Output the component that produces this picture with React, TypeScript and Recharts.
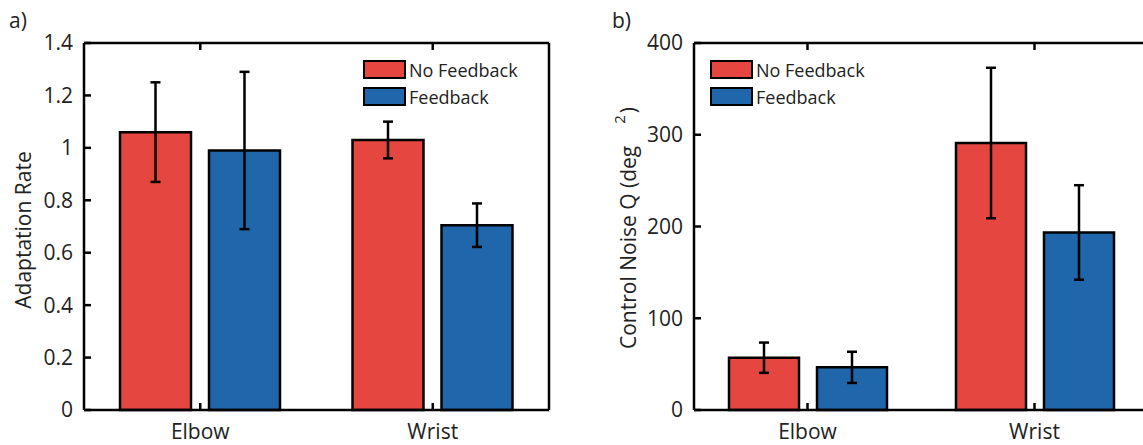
import { Bar, BarChart, ErrorBar, Legend, XAxis, YAxis } from "recharts";

const joints = ["Elbow", "Wrist"];
const seriesNames = ["No Feedback", "Feedback"];

// panel a) adaptation rate
const rateNoFeedback = [1.06, 1.03];
const rateNoFeedbackErr = [0.19, 0.07];
const rateFeedback = [0.99, 0.705];
const rateFeedbackErr = [0.3, 0.083];
const rateTicks = [0, 0.2, 0.4, 0.6, 0.8, 1, 1.2, 1.4];

// panel b) control noise
const noiseNoFeedback = [57, 291];
const noiseNoFeedbackErr = [16.5, 82];
const noiseFeedback = [46.5, 193.5];
const noiseFeedbackErr = [17, 51.5];
const noiseTicks = [0, 100, 200, 300, 400];

const RED = "#E5463F";
const BLUE = "#1F66AA";
const FONT = "'Open Sans', sans-serif";
const INK = "#222";

const buildRows = (nf: number[], nfErr: number[], fb: number[], fbErr: number[]) =>
  joints.map((name, i) => ({ name, nf: nf[i], nfErr: nfErr[i], fb: fb[i], fbErr: fbErr[i] }));

const rateData = buildRows(rateNoFeedback, rateNoFeedbackErr, rateFeedback, rateFeedbackErr);
const noiseData = buildRows(noiseNoFeedback, noiseNoFeedbackErr, noiseFeedback, noiseFeedbackErr);

const axisLine = { stroke: "#000", strokeWidth: 2.5 };
const tickFont = { fontFamily: FONT, fontSize: 21, fill: INK };

// legend keeps the series order (recharts sorts by value otherwise)
const LegendBox = ({ payload }: any) => {
  const items = [...(payload || [])].sort(
    (a: any, b: any) => seriesNames.indexOf(a.value) - seriesNames.indexOf(b.value)
  );
  return (
    <div style={{ fontFamily: FONT, fontSize: 18, color: INK }}>
      {items.map((p: any) => (
        <div key={p.value} style={{ display: "flex", alignItems: "center", height: 27 }}>
          <span
            style={{
              display: "inline-block",
              width: 39,
              height: 15,
              background: p.color,
              border: "2.5px solid #000",
              marginRight: 3,
            }}
          />
          {p.value}
        </div>
      ))}
    </div>
  );
};

const RateLabel = () => (
  <text transform="translate(31,230) rotate(-90)" textAnchor="middle" fontFamily={FONT} fontSize={21} fill={INK}>
    Adaptation Rate
  </text>
);

const NoiseLabel = () => (
  <text transform="translate(56,228) rotate(-90)" textAnchor="middle" fontFamily={FONT} fontSize={21} fill={INK}>
    Control Noise Q (deg
    <tspan dx={22} dy={-11} fontSize={15}>
      2
    </tspan>
    <tspan dx={2} dy={11}>
      )
    </tspan>
  </text>
);

type PanelProps = {
  data: any[];
  ticks: number[];
  width: number;
  leftWidth: number;
  rightWidth: number;
  barSize: number;
  legendLeft: number;
  label: React.ReactElement;
};

const Panel = ({ data, ticks, width, leftWidth, rightWidth, barSize, legendLeft, label }: PanelProps) => {
  const domain = [ticks[0], ticks[ticks.length - 1]];
  return (
    <BarChart
      width={width}
      height={445}
      data={data}
      margin={{ top: 33, right: 0, bottom: 0, left: 0 }}
      barSize={barSize}
      barGap={18}
    >
      <XAxis
        dataKey="name"
        height={35}
        axisLine={axisLine}
        tickLine={axisLine}
        tickSize={-7}
        tickMargin={21}
        tick={tickFont}
      />
      <XAxis
        xAxisId="top"
        dataKey="name"
        orientation="top"
        height={10}
        axisLine={axisLine}
        tickLine={axisLine}
        tickSize={-7}
        tickFormatter={() => ""}
      />
      <YAxis
        domain={domain}
        ticks={ticks}
        width={leftWidth}
        axisLine={axisLine}
        tickLine={axisLine}
        tickSize={-7}
        tickMargin={18}
        tick={tickFont}
        label={label}
      />
      <YAxis
        yAxisId="right"
        orientation="right"
        domain={domain}
        ticks={ticks}
        width={rightWidth}
        axisLine={axisLine}
        tickLine={axisLine}
        tickSize={-7}
        tickFormatter={() => ""}
      />
      <Legend
        layout="vertical"
        align="center"
        verticalAlign="middle"
        content={<LegendBox />}
        wrapperStyle={{ top: 56, left: legendLeft, width: "auto" }}
      />
      <Bar dataKey="nf" name={seriesNames[0]} fill={RED} stroke="#000" strokeWidth={2.5} isAnimationActive={false}>
        <ErrorBar dataKey="nfErr" width={5} stroke="#000" strokeWidth={2.5} />
      </Bar>
      <Bar dataKey="fb" name={seriesNames[1]} fill={BLUE} stroke="#000" strokeWidth={2.5} isAnimationActive={false}>
        <ErrorBar dataKey="fbErr" width={5} stroke="#000" strokeWidth={2.5} />
      </Bar>
    </BarChart>
  );
};

const panelTag = { position: "absolute" as const, top: 8, fontFamily: FONT, fontSize: 21, color: INK, lineHeight: "24px" };

export default function App() {
  return (
    <div style={{ position: "absolute", left: 0, top: 0, width: 1143, height: 445, overflow: "hidden", background: "#fff" }}>
      <div style={{ position: "absolute", left: 0, top: 0 }}>
        <Panel
          data={rateData}
          ticks={rateTicks}
          width={560}
          leftWidth={84}
          rightWidth={11}
          barSize={71}
          legendLeft={363}
          label={<RateLabel />}
        />
      </div>
      <div style={{ position: "absolute", left: 580, top: 0 }}>
        <Panel
          data={noiseData}
          ticks={noiseTicks}
          width={580}
          leftWidth={114}
          rightWidth={12}
          barSize={70}
          legendLeft={130}
          label={<NoiseLabel />}
        />
      </div>
      <div style={{ ...panelTag, left: 9 }}>a)</div>
      <div style={{ ...panelTag, left: 612 }}>b)</div>
    </div>
  );
}
